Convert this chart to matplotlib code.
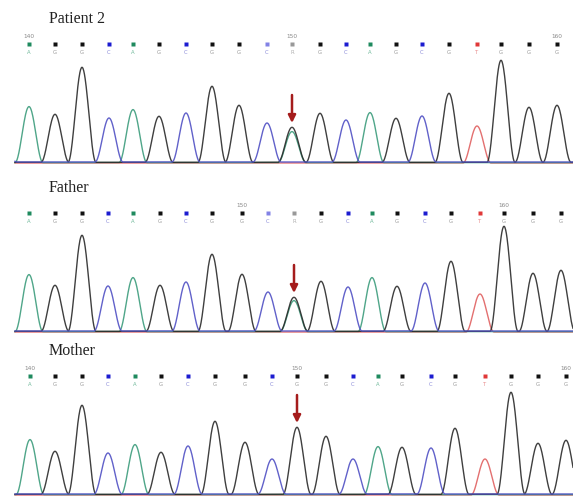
import numpy as np
import matplotlib
matplotlib.use("Agg")
import matplotlib.pyplot as plt

# called bases (same read in all three samples), het position at index 10
bases = list("AGGCAGCGGCGGCAGCGTGGG")

titles = ["Patient 2", "Father", "Mother"]

# peak positions (scan units) and peak heights
pos_patient = [29, 55, 82, 109, 133, 159, 186, 212, 239, 267, 292, 320, 346, 370, 396, 422, 449, 477, 501, 529, 557]
h_patient = [56, 48, 95, 44, 53, 46, 49, 76, 57, 39, 35, 49, 42, 50, 44, 46, 69, 37, 102, 55, 57]
pos_father = [29, 55, 82, 108, 133, 160, 186, 212, 242, 268, 294, 321, 348, 372, 397, 425, 451, 480, 504, 533, 561]
h_father = [57, 46, 96, 45, 54, 46, 49, 77, 57, 39, 34, 50, 44, 54, 45, 48, 70, 38, 105, 58, 61]
pos_mother = [30, 55, 82, 108, 135, 161, 188, 215, 245, 272, 297, 326, 353, 378, 402, 431, 455, 485, 511, 538, 566]
h_mother = [55, 43, 89, 41, 50, 42, 48, 73, 52, 35, 67, 58, 35, 48, 47, 46, 66, 36, 102, 51, 54]

# secondary A peak under the G at the variant site (0 = none)
het_a = [31, 31, 0]
# base numbering shown above the dots: {index: number}
numbering = [{0: 140, 10: 150, 20: 160}, {8: 150, 18: 160}, {0: 140, 10: 150, 20: 160}]
call_letter = ["R", "R", "G"]

positions = [pos_patient, pos_father, pos_mother]
heights = [h_patient, h_father, h_mother]

trace_col = {"A": "#3c9c7c", "C": "#5050c4", "G": "#2a2a2a", "T": "#e06060"}
dot_col = {"A": "#1f8a5e", "C": "#1c1cd0", "G": "#111111", "T": "#e03838"}
txt_col = {"A": "#6fb89a", "C": "#8a8ad8", "G": "#9a9a9a", "T": "#e88a8a"}

fig = plt.figure(figsize=(5.73, 4.96), dpi=100)
W, H = 573.0, 496.0
baselines = [163, 332, 495]   # pixel row of each trace baseline
half_w = 14.0


def peak(x, c, h):
    d = np.clip((x - c) / half_w, -1, 1)
    return h * np.cos(np.pi * d / 2) ** 2


for k in range(3):
    B = baselines[k]
    bottom = B + 7
    ax = fig.add_axes([0, (H - bottom) / H, 1, 170 / H])
    ax.set_xlim(0, W)
    ax.set_ylim(-7, 163)
    ax.axis("off")

    x = np.linspace(15, W, 1600)
    pos = positions[k]
    hs = heights[k]
    offs = {"T": 0.0, "A": 0.4, "G": 0.7, "C": 1.0}
    for ch in ["T", "A", "G", "C"]:
        y = np.zeros_like(x)
        for i, b in enumerate(bases):
            if b == ch:
                y += peak(x, pos[i], hs[i])
        if ch == "A" and het_a[k]:
            y += peak(x, pos[10], het_a[k])
        if ch == "C" and k == 0:
            y += peak(x, 3, 14)
        ax.plot(x, y + offs[ch], color=trace_col[ch], lw=1.0, alpha=0.9, zorder=2)

    # title
    ax.text(49, 144, titles[k], fontsize=11.5, family="Liberation Serif",
            color="#222222", va="center", ha="left")

    # base call dots, letters and numbering
    for i, b in enumerate(bases):
        letter = b
        c = dot_col[b]
        tc = txt_col[b]
        alpha = 1.0
        if i == 10:
            letter = call_letter[k]
            if k < 2:
                c, tc = "#999999", "#b0b0b0"
        if i == 9 and k < 2:
            alpha = 0.55
        ax.plot(pos[i], 119, marker="s", ms=3.4, color=c, alpha=alpha, mec="none")
        ax.text(pos[i], 111, letter, fontsize=3.8, color=tc, ha="center", va="center")
        if i in numbering[k]:
            ax.text(pos[i], 126.5, str(numbering[k][i]), fontsize=4.2,
                    color="#8a8a8a", ha="center", va="center")

    # arrow at the variant site
    top = max(hs[10], het_a[k])
    ax.annotate("", xy=(pos[10], top + 5), xytext=(pos[10], top + 33),
                arrowprops=dict(arrowstyle="-|>", color="#a51c1c", lw=1.8,
                                mutation_scale=11, shrinkA=0, shrinkB=0))

fig.savefig("out.png", dpi=100)
